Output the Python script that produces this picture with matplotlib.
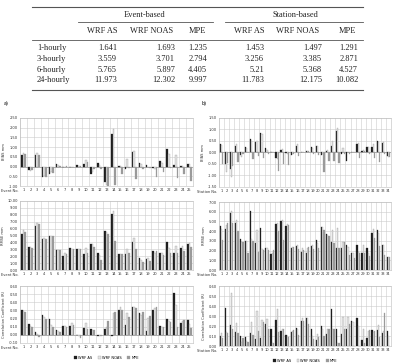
import matplotlib
matplotlib.use('Agg')
import matplotlib.pyplot as plt
import numpy as np

# ---- table data ----
row_names = ['1-hourly', '3-hourly', '6-hourly', '24-hourly']
col_names = ['WRF AS', 'WRF NOAS', 'MPE', 'WRF AS', 'WRF NOAS', 'MPE']
event_vals = [['1.641', '1.693', '1.235'],
              ['3.559', '3.701', '2.794'],
              ['5.765', '5.897', '4.405'],
              ['11.973', '12.302', '9.997']]
station_vals = [['1.453', '1.497', '1.291'],
                ['3.256', '3.385', '2.871'],
                ['5.21', '5.368', '4.527'],
                ['11.783', '12.175', '10.082']]

# ---- panel a: events ----
events = list(range(1, 26))
ev_bias_as = [0.62, -0.20, 0.58, -0.55, -0.40, 0.15, 0.00, -0.02, 0.10, 0.15, -0.40, 0.20, -0.80,
              1.70, 0.05, -0.15, 0.75, 0.20, 0.10, -0.08, 0.30, 0.90, 0.10, 0.02, 0.15]
ev_bias_noas = [0.70, -0.25, 0.72, -0.50, -0.30, 0.10, -0.02, -0.02, 0.05, 0.35, -0.30, 0.10, -0.95,
                1.95, 0.02, 0.40, 0.80, 0.15, 0.00, -0.10, 0.20, 0.65, 0.60, 0.05, 0.15]
ev_bias_mpe = [0.65, -0.20, 0.60, -0.55, -0.35, 0.05, 0.02, -0.01, 0.05, 0.25, -0.10, -0.15, -1.05,
               -0.95, -0.40, -0.05, -0.65, -0.10, -0.05, -0.55, -0.30, -0.05, -0.60, -0.40, -0.75]
ev_rmse_as = [5.2, 3.3, 6.4, 4.5, 4.9, 2.9, 2.1, 3.2, 3.1, 2.3, 3.8, 2.4, 5.6,
              8.1, 2.3, 2.3, 4.0, 1.7, 1.6, 2.8, 2.5, 4.0, 2.4, 3.2, 3.7]
ev_rmse_noas = [5.8, 3.3, 6.8, 4.6, 5.0, 2.9, 2.5, 3.1, 3.0, 3.2, 3.7, 2.2, 5.5,
                8.6, 2.3, 3.1, 4.6, 1.5, 1.7, 2.4, 2.5, 3.2, 3.5, 3.5, 3.9]
ev_rmse_mpe = [5.5, 3.2, 6.6, 4.5, 4.9, 2.9, 2.3, 3.1, 3.0, 2.5, 3.4, 1.5, 5.2,
               4.2, 2.3, 2.4, 3.1, 1.2, 1.3, 2.8, 2.2, 2.5, 2.5, 2.8, 3.4]
ev_corr_as = [0.31, 0.13, 0.03, 0.24, 0.20, 0.06, 0.11, 0.11, 0.00, 0.09, 0.07, -0.01, 0.07,
              -0.02, 0.31, 0.12, 0.34, 0.27, 0.05, 0.30, 0.11, 0.20, 0.51, 0.15, 0.18]
ev_corr_noas = [0.29, 0.11, 0.01, 0.22, 0.12, 0.05, 0.11, 0.14, -0.01, 0.14, 0.06, -0.01, 0.10,
                0.27, 0.34, 0.27, 0.34, 0.25, 0.21, 0.33, 0.10, 0.17, 0.37, 0.17, 0.13]
ev_corr_mpe = [0.28, 0.10, -0.03, 0.20, 0.10, 0.04, 0.10, 0.12, -0.04, 0.07, 0.06, -0.01, 0.17,
               0.28, 0.30, 0.22, 0.33, 0.28, 0.23, 0.34, 0.10, 0.16, 0.10, 0.18, 0.08]

# ---- panel b: stations ----
stations = list(range(1, 35))
st_bias_as = [0.38, -0.50, -0.70, 0.30, -0.12, 0.25, 0.60, 0.45, 0.85, 0.18, 0.02, -0.25, 0.10, -0.02,
              -0.10, 0.30, 0.02, 0.05, 0.25, 0.30, -0.12, 0.05, 0.27, 0.95, -0.08, -0.38, 0.02,
              0.37, 0.05, 0.25, 0.22, 0.50, 0.42, -0.15]
st_bias_noas = [0.32, -0.85, -1.05, 0.35, -0.20, 0.20, 0.50, 0.50, 0.80, 0.10, 0.03, -0.30, 0.15, -0.05,
                -0.05, 0.35, 0.03, 0.05, 0.20, 0.28, -0.08, 0.10, 0.50, 1.08, 0.18, 0.02, 0.02,
                0.42, 0.12, 0.25, 0.38, 0.45, 0.45, -0.20]
st_bias_mpe = [-0.50, -0.45, -0.60, -0.40, -0.05, 0.02, -0.30, -0.15, -0.25, -0.08, 0.02, -0.80, -0.50, -0.55,
               -0.05, -0.15, 0.00, 0.05, -0.05, -0.10, -0.85, -0.35, -0.35, -0.45, -0.05, -0.05, 0.00,
               -0.22, 0.05, -0.05, -0.25, -0.40, -0.05, -0.20]
st_rmse_as = [4.5, 4.2, 5.9, 4.8, 3.2, 3.0, 6.1, 2.8, 4.3, 2.3, 1.6, 4.7, 5.0, 4.5, 2.3, 2.5, 1.9,
              1.8, 2.5, 3.1, 4.4, 3.7, 2.9, 2.3, 2.3, 2.6, 1.8, 2.6, 1.8, 2.3, 3.8, 4.1, 2.6, 1.3]
st_rmse_noas = [4.2, 4.6, 6.1, 5.1, 2.9, 3.0, 3.2, 4.1, 2.2, 2.3, 1.8, 4.8, 5.1, 4.7, 2.4, 2.6, 2.3,
                2.3, 2.6, 2.8, 4.4, 3.6, 4.1, 4.3, 2.9, 2.4, 1.7, 1.9, 2.6, 1.7, 4.2, 3.8, 2.6, 1.3]
st_rmse_mpe = [3.1, 4.8, 4.8, 4.0, 2.9, 1.7, 3.0, 1.9, 2.1, 2.1, 2.1, 4.0, 3.1, 4.6, 2.4, 2.2, 2.1,
               2.4, 2.2, 2.3, 4.1, 3.5, 2.8, 2.3, 2.9, 1.5, 1.2, 1.8, 1.7, 1.4, 3.3, 2.5, 1.5, 1.3]
st_corr_as = [0.10, 0.38, 0.21, 0.14, 0.10, 0.09, 0.13, 0.07, 0.08, 0.22, 0.17, 0.26, 0.15, 0.11, 0.14,
              0.18, 0.25, 0.28, 0.17, 0.06, 0.20, 0.12, 0.37, 0.17, 0.12, 0.17, 0.25, 0.28, 0.06,
              0.08, 0.16, 0.16, 0.13, 0.15]
st_corr_noas = [0.13, 0.14, 0.53, 0.23, 0.04, 0.05, 0.24, 0.35, 0.26, 0.27, 0.03, 0.37, 0.17, 0.10, 0.15,
                0.17, 0.28, 0.28, 0.10, 0.12, 0.17, 0.17, 0.17, 0.03, 0.29, 0.29, 0.24, 0.20, 0.17,
                0.15, 0.14, 0.21, 0.15, 0.10]
st_corr_mpe = [0.08, 0.13, 0.17, 0.13, 0.08, 0.04, 0.11, 0.15, 0.24, 0.17, 0.03, 0.14, 0.17, 0.09, 0.16,
               0.11, 0.25, 0.22, 0.07, 0.09, 0.10, 0.17, 0.17, 0.03, 0.17, 0.22, 0.00, 0.00, 0.03,
               0.16, 0.15, 0.09, 0.33, 0.00]

W, H = 396, 364
fig = plt.figure(figsize=(W / 100, H / 100), dpi=100)
fig.patch.set_facecolor('white')

serif = ['Liberation Serif', 'DejaVu Serif']


def px(x, y):
    return x / W, 1 - y / H


def hline(x0, x1, y, lw=0.8):
    fig.add_artist(plt.Line2D([x0 / W, x1 / W], [1 - y / H, 1 - y / H], color='#555555', lw=lw))


def ttext(x, y, s, ha='center'):
    fig.text(x / W, 1 - y / H, s, ha=ha, va='center', fontsize=6, family=serif, color='#222222')


# table
hline(32, 363, 7)
hline(78, 213, 22, 0.6)
hline(225, 363, 22, 0.6)
hline(32, 363, 40, 0.6)
hline(32, 363, 90)
ttext(145, 15, 'Event-based')
ttext(295, 15, 'Station-based')
head_x = [102, 152, 197, 249, 298, 347]
for x, name in zip(head_x, col_names):
    ttext(x, 31, name)
right_x = [117, 175, 207, 264, 322, 358]
row_y = [48, 59, 70, 80]
for i, name in enumerate(row_names):
    ttext(37, row_y[i], name, ha='left')
    vals = event_vals[i] + station_vals[i]
    for x, v in zip(right_x, vals):
        ttext(x, row_y[i], v, ha='right')

fig.text(px(4, 104)[0], px(4, 104)[1], 'a)', fontsize=3.5, va='center')
fig.text(px(202, 104)[0], px(202, 104)[1], 'b)', fontsize=3.5, va='center')

colors = ['#1e1e1e', '#e4e4e4', '#9a9a9a']
labels = ['WRF AS', 'WRF NOAS', 'MPE']


def bar_panel(box, cats, series, ylim, step, ylabel, xname):
    x0, y0, x1, y1 = box
    ax = fig.add_axes([x0 / W, 1 - y1 / H, (x1 - x0) / W, (y1 - y0) / H])
    x = np.arange(len(cats))
    w = 0.24
    for k, vals in enumerate(series):
        ax.bar(x + (k - 1) * w, vals, w, color=colors[k],
               edgecolor='#888888' if k == 1 else colors[k], linewidth=0.2,
               label=labels[k], zorder=3)
    ax.set_xlim(-0.5, len(cats) - 0.5)
    ax.set_ylim(*ylim)
    yt = np.arange(ylim[0], ylim[1] + step / 2, step)
    ax.set_yticks(yt)
    ax.set_yticklabels(['%.2f' % v for v in yt])
    ax.set_xticks(x)
    ax.set_xticklabels([str(c) for c in cats])
    ax.set_xticks(np.arange(-0.5, len(cats)), minor=True)
    ax.grid(which='minor', axis='x', color='#cccccc', lw=0.4, zorder=0)
    ax.grid(which='major', axis='y', color='#cccccc', lw=0.4, zorder=0)
    ax.axhline(0, color='#888888', lw=0.4, zorder=2)
    ax.tick_params(axis='both', which='both', length=0, labelsize=2.6, pad=1.5,
                   labelcolor='#333333')
    for s in ax.spines.values():
        s.set_color('#bbbbbb')
        s.set_linewidth(0.4)
    ax.set_ylabel(ylabel, fontsize=2.6, labelpad=2, color='#333333')
    ax.text(-0.01, -0.045, xname, transform=ax.transAxes, ha='right', va='top',
            fontsize=2.6, color='#333333')
    return ax


bar_panel((20, 118, 193, 186), events, [ev_bias_as, ev_bias_noas, ev_bias_mpe],
          (-1.0, 2.5), 0.5, 'BIAS mm', 'Event No.')
bar_panel((20, 201, 193, 270), events, [ev_rmse_as, ev_rmse_noas, ev_rmse_mpe],
          (0.0, 10.0), 1.0, 'RMSE mm', 'Event No.')
axa = bar_panel((20, 286, 193, 343), events, [ev_corr_as, ev_corr_noas, ev_corr_mpe],
                (-0.1, 0.6), 0.1, 'Correlation Coefficient (R)', 'Event No.')

bar_panel((219, 118, 391, 187), stations, [st_bias_as, st_bias_noas, st_bias_mpe],
          (-1.5, 1.5), 0.5, 'BIAS mm', 'Station No.')
bar_panel((219, 202, 391, 270), stations, [st_rmse_as, st_rmse_noas, st_rmse_mpe],
          (0.0, 7.0), 1.0, 'RMSE mm', 'Station No.')
axb = bar_panel((219, 286, 391, 346), stations, [st_corr_as, st_corr_noas, st_corr_mpe],
                (0.0, 0.6), 0.1, 'Correlation Coefficient (R)', 'Station No.')

for ax, ycen in ((axa, 358), (axb, 361)):
    h, l = ax.get_legend_handles_labels()
    fig.legend(h, l, loc='center', bbox_to_anchor=((ax.get_position().x0 + ax.get_position().x1) / 2,
                                                   1 - ycen / H),
               ncol=3, fontsize=2.6, frameon=False, handlelength=0.8, handleheight=0.8,
               handletextpad=0.3, columnspacing=1.5, borderpad=0)

plt.savefig('out.png', dpi=100)
